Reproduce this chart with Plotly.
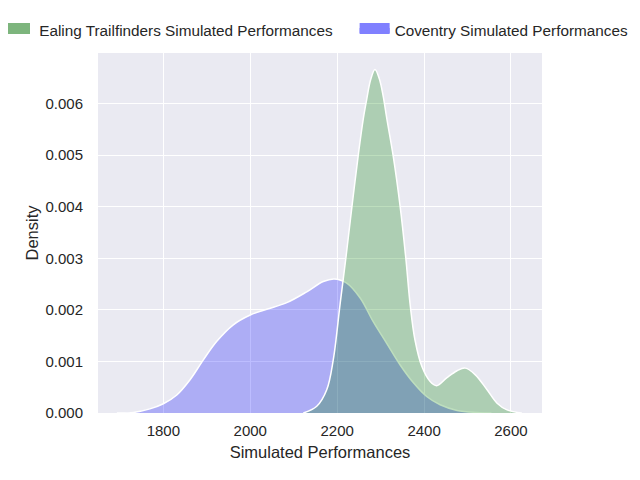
import plotly.graph_objects as go

# values
coventry_x = [1693, 1731, 1769, 1800, 1831, 1861, 1892, 1923, 1961, 2000, 2038, 2084,
              2130, 2168, 2193, 2222, 2253, 2283, 2314, 2345, 2376, 2406, 2437, 2476,
              2522, 2555]
coventry_y = [0, 0.00001, 0.00008, 0.00018, 0.00035, 0.00064, 0.00103, 0.00139, 0.00171,
              0.00190, 0.00201, 0.00214, 0.00235, 0.00255, 0.00260, 0.00252, 0.00223,
              0.00177, 0.00135, 0.00093, 0.00058, 0.00032, 0.00016, 0.00005, 0.00001, 0]

ealing_x = [2122, 2153, 2176, 2191, 2207, 2220, 2234, 2249, 2260, 2268, 2277, 2287, 2297,
            2306, 2314, 2329, 2345, 2358, 2368, 2379, 2395, 2414, 2429, 2452, 2476, 2495,
            2518, 2545, 2568, 2591, 2625]
ealing_y = [0, 0.00013, 0.00045, 0.00103, 0.00213, 0.00300, 0.00400, 0.00503, 0.00570,
            0.00608, 0.00646, 0.00666, 0.00648, 0.00614, 0.00572, 0.00498, 0.00400,
            0.00300, 0.00210, 0.00142, 0.00090, 0.00061, 0.00053, 0.00068, 0.00082,
            0.00087, 0.00074, 0.00045, 0.00019, 0.00006, 0]

ealing_name = "\u00a0Ealing Trailfinders Simulated Performances"
coventry_name = "Coventry Simulated Performances"

txt = "rgb(38,38,38)"
font = "Liberation Sans, Arial, sans-serif"

fig = go.Figure()

# legend swatches, one legend each so they sit side by side like the reference
fig.add_trace(go.Scatter(x=[None], y=[None], name=ealing_name, mode="lines",
                         fill="tozeroy", fillcolor="rgb(125,181,125)",
                         line=dict(color="rgb(125,181,125)", width=10), legend="legend"))
fig.add_trace(go.Scatter(x=[None], y=[None], name=coventry_name, mode="lines",
                         fill="tozeroy", fillcolor="rgb(128,128,255)",
                         line=dict(color="rgb(128,128,255)", width=10), legend="legend2"))

# curves: blue underneath, green on top
fig.add_trace(go.Scatter(x=coventry_x, y=coventry_y, mode="lines", showlegend=False,
                         fill="tozeroy", fillcolor="rgba(0,0,255,0.26)",
                         line=dict(color="white", width=1.5, shape="spline")))
fig.add_trace(go.Scatter(x=ealing_x, y=ealing_y, mode="lines", showlegend=False,
                         fill="tozeroy", fillcolor="rgba(0,128,0,0.26)",
                         line=dict(color="white", width=1.5, shape="spline")))

leg = dict(orientation="h", xanchor="left", y=1.064, yanchor="middle",
           font=dict(size=15.3, color=txt), itemwidth=30, bgcolor="rgba(0,0,0,0)")

# page body adds an 8px offset, margins are compensated for it
fig.update_layout(
    width=640, height=480,
    margin=dict(l=90, r=106, t=45, b=75, autoexpand=False),
    paper_bgcolor="white",
    plot_bgcolor="#EAEAF2",
    font=dict(family=font, size=15, color=txt),
    legend=dict(leg, x=-0.232),
    legend2=dict(leg, x=0.578),
)
fig.update_xaxes(
    range=[1649.6, 2671.4], tick0=0, dtick=200, showgrid=True, gridcolor="white",
    gridwidth=1.4, zeroline=False, showline=False, ticks="",
    tickfont=dict(size=15, color=txt), ticklabelstandoff=7,
    title=dict(text="Simulated Performances", font=dict(size=16.5, color=txt), standoff=8),
)
fig.update_yaxes(
    range=[0, 0.00698], dtick=0.001, tickformat=".3f", showgrid=True, gridcolor="white",
    gridwidth=1.4, zeroline=False, showline=False, ticks="",
    tickfont=dict(size=15, color=txt), ticklabelstandoff=14,
    title=dict(text="Density", font=dict(size=16.5, color=txt), standoff=2),
)

fig.write_html("out.html")
